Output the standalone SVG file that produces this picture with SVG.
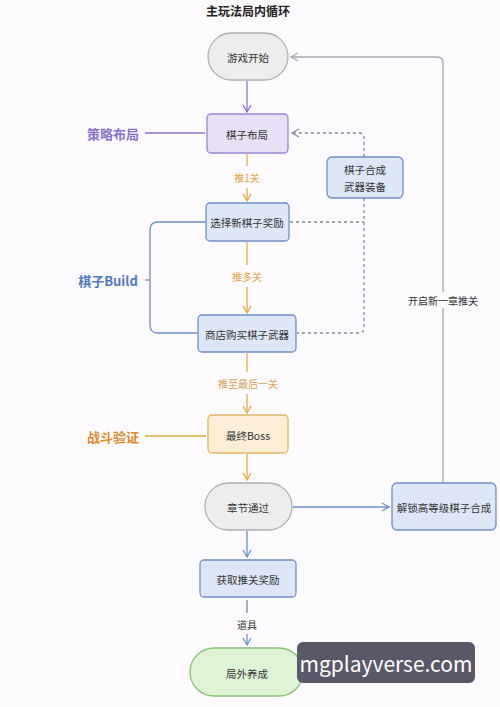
<svg xmlns="http://www.w3.org/2000/svg" width="500" height="707" viewBox="0 0 500 707">
<defs>
<style>
text{font-family:"Noto Sans CJK SC","Noto Sans",sans-serif;text-anchor:middle;dominant-baseline:central}
.n{font-size:10.5px;fill:#333}
.t{font-size:12px;font-weight:bold;fill:#222}
.side{font-size:13px;font-weight:bold}
.lbl{font-size:10px}
.purple{fill:#e8e0f6;stroke:#9985d2;stroke-width:1.3}
.blue{fill:#dde7f8;stroke:#6f8fc6;stroke-width:1.3}
.orange{fill:#fcefd6;stroke:#e1b566;stroke-width:1.3}
.gray{fill:#ededed;stroke:#b0b0b0;stroke-width:1.3}
.green{fill:#dff4d4;stroke:#86c276;stroke-width:1.3}
.ln{fill:none;stroke-width:1.3}
</style>
<marker id="aP" markerWidth="10" markerHeight="10" refX="8" refY="5" orient="auto" markerUnits="userSpaceOnUse"><path d="M1,1 L8,5 L1,9" fill="none" stroke="#8a72cc" stroke-width="1.3"/></marker>
<marker id="aO" markerWidth="10" markerHeight="10" refX="8" refY="5" orient="auto" markerUnits="userSpaceOnUse"><path d="M1,1 L8,5 L1,9" fill="none" stroke="#e2aa45" stroke-width="1.3"/></marker>
<marker id="aB" markerWidth="10" markerHeight="10" refX="8" refY="5" orient="auto" markerUnits="userSpaceOnUse"><path d="M1,1 L8,5 L1,9" fill="none" stroke="#6f8fc6" stroke-width="1.3"/></marker>
<marker id="aG" markerWidth="10" markerHeight="10" refX="8" refY="5" orient="auto" markerUnits="userSpaceOnUse"><path d="M1,1 L8,5 L1,9" fill="none" stroke="#a8a8b0" stroke-width="1.3"/></marker>
<marker id="aD" markerWidth="10" markerHeight="10" refX="8" refY="5" orient="auto" markerUnits="userSpaceOnUse"><path d="M1,1 L8,5 L1,9" fill="none" stroke="#7f8fa8" stroke-width="1.3"/></marker>
</defs>
<rect width="500" height="707" fill="#fdfbfd"/>
<text class="t" x="248" y="10">主玩法局内循环</text>

<g id="connectors">
<line class="ln" stroke="#8a72cc" x1="247" y1="81" x2="247" y2="112" marker-end="url(#aP)"/>
<line class="ln" stroke="#8a72cc" x1="145" y1="133" x2="205" y2="133"/>
<path class="ln" stroke="#7f8a9c" stroke-dasharray="3,3" d="M364,157 V138 Q364,133 359,133 H292" marker-end="url(#aD)"/>
<path class="ln" stroke="#7f8a9c" stroke-dasharray="3,3" d="M364,198 V328 Q364,333 359,333 H297"/>
<line class="ln" stroke="#7f8a9c" stroke-dasharray="3,3" x1="290" y1="222" x2="364" y2="222"/>
<line class="ln" stroke="#e2aa45" x1="247" y1="154" x2="247" y2="166"/>
<line class="ln" stroke="#e2aa45" x1="247" y1="188" x2="247" y2="201" marker-end="url(#aO)"/>
<text class="lbl" x="247" y="177" fill="#e2a440">推1关</text>
<line class="ln" stroke="#e2aa45" x1="247" y1="242" x2="247" y2="265"/>
<line class="ln" stroke="#e2aa45" x1="247" y1="287" x2="247" y2="313" marker-end="url(#aO)"/>
<text class="lbl" x="247" y="276" fill="#e2a440">推多关</text>
<path class="ln" stroke="#6f8fc6" d="M205,222 H158 Q150,222 150,230 V325 Q150,333 158,333 H197"/>
<line class="ln" stroke="#6f8fc6" x1="145" y1="280" x2="150" y2="280"/>
<line class="ln" stroke="#e2aa45" x1="247" y1="353" x2="247" y2="372"/>
<line class="ln" stroke="#e2aa45" x1="247" y1="394" x2="247" y2="413" marker-end="url(#aO)"/>
<text class="lbl" x="248" y="383" fill="#d9a050">推至最后一关</text>
<line class="ln" stroke="#e2aa45" x1="145" y1="436" x2="206" y2="436"/>
<line class="ln" stroke="#e2aa45" x1="247" y1="454" x2="247" y2="480" marker-end="url(#aO)"/>
<line class="ln" stroke="#6f8fc6" x1="293" y1="507" x2="389" y2="507" marker-end="url(#aB)"/>
<path class="ln" stroke="#a8a8b0" d="M443,483 V63 Q443,57 437,57 H291" marker-end="url(#aG)"/>
<rect x="402" y="292" width="82" height="16" fill="#fdfbfd"/>
<text class="lbl" x="443" y="300" fill="#333">开启新一章推关</text>
<line class="ln" stroke="#6f8fc6" x1="247" y1="531" x2="247" y2="557" marker-end="url(#aB)"/>
<line class="ln" stroke="#7f8a9c" x1="247" y1="600" x2="247" y2="613"/>
<line class="ln" stroke="#6f8fc6" x1="247" y1="634" x2="247" y2="645" marker-end="url(#aB)"/>
<text class="lbl" x="247" y="624" fill="#333">道具</text>
</g>

<g id="start"><rect class="gray" x="208" y="33" width="80" height="47" rx="23.5"/><text class="n" x="248" y="57">游戏开始</text></g>
<g id="layout"><rect class="purple" x="207" y="114" width="81" height="39" rx="4"/><text class="n" x="247" y="134">棋子布局</text></g>
<g id="label-strategy"><text class="side" x="113" y="133" fill="#8a6fd0">策略布局</text></g>
<g id="merge"><rect class="blue" x="327" y="157" width="76" height="41" rx="5"/><text class="n" x="365" y="169">棋子合成</text><text class="n" x="365" y="186">武器装备</text></g>
<g id="choose"><rect class="blue" x="206" y="203" width="83" height="38" rx="4"/><text class="n" x="247" y="222">选择新棋子奖励</text></g>
<g id="label-build"><text class="side" x="108" y="280" fill="#4f78c4">棋子Build</text></g>
<g id="shop"><rect class="blue" x="198" y="315" width="98" height="37" rx="4"/><text class="n" x="247" y="334">商店购买棋子武器</text></g>
<g id="boss"><rect class="orange" x="208" y="415" width="80" height="38" rx="4"/><text class="n" x="248" y="435">最终Boss</text></g>
<g id="label-battle"><text class="side" x="113" y="436" fill="#e0882a">战斗验证</text></g>
<g id="pass"><rect class="gray" x="205" y="483" width="87" height="47" rx="23.5"/><text class="n" x="248" y="507">章节通过</text></g>
<g id="unlock"><rect class="blue" x="392" y="483" width="104" height="47" rx="5"/><text class="n" x="444" y="507">解锁高等级棋子合成</text></g>
<g id="reward"><rect class="blue" x="200" y="560" width="96" height="37" rx="4"/><text class="n" x="248" y="579">获取推关奖励</text></g>
<g id="outer"><rect class="green" x="190" y="648" width="113" height="48" rx="24"/><text class="n" x="247" y="673">局外养成</text></g>
<g id="watermark"><rect x="297" y="642" width="178" height="41" rx="6" fill="#5a5868"/><text x="386" y="663" font-family="Open Sans,Noto Sans,sans-serif" font-size="21" fill="#ffffff">mgplayverse.com</text></g>
</svg>
